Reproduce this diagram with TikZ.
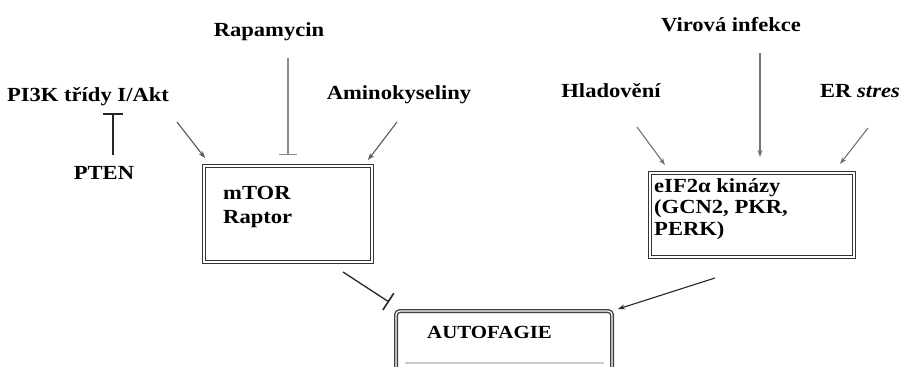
\documentclass[tikz,border=0pt]{standalone}
\usepackage{fontspec}
\setmainfont{Liberation Serif}[FakeStretch=1.13]
\usetikzlibrary{arrows.meta}
\tikzset{
  lbl/.style={font=\fontsize{20}{22}\selectfont\bfseries, inner sep=0pt},
  boxtxt/.style={font=\fontsize{20}{22}\selectfont\bfseries, inner sep=0pt, anchor=west},
  dbox/.style={draw=black!80, line width=0.9pt, double=white, double distance=1.6pt, inner sep=0pt},
  abox/.style={draw=black!75, line width=1.4pt, double=white, double distance=1.2pt, rounded corners=4pt, inner sep=0pt},
  act/.style={draw=black!65, line width=1.1pt, -{Stealth[length=7pt,width=5pt]}},
  actl/.style={draw=black!55, line width=1.1pt, -{Stealth[length=7pt,width=5pt]}},
  inh/.style={draw=black!45, line width=1.1pt, -{Bar[width=18pt,line width=1.3pt]}},
  inhd/.style={draw=black!85, line width=1.3pt, -{Bar[width=20pt,line width=1.6pt]}},
}
\begin{document}
\begin{tikzpicture}[x=1pt,y=-1pt]
\useasboundingbox (0,0) rectangle (906,367);
\clip (0,0) rectangle (906,367);
\fill[white] (0,0) rectangle (906,367);

% labels
\node[lbl] (rapa) at (269,32) {Rapamycin};
\node[lbl] (amino) at (399,95) {Aminokyseliny};
\node[lbl] (pi3k) at (88,97) {PI3K třídy I/Akt};
\node[lbl] (pten) at (104,173) {PTEN};
\node[lbl] (vir) at (731,25) {Virová infekce};
\node[lbl] (hlad) at (611,91) {Hladovění};
\node[lbl] (er) at (860,91) {ER \textit{stres}};

% boxes
\node[dbox, minimum width=168pt, minimum height=96pt] (mtor) at (288,214) {};
\node[boxtxt] (mtortxt) at (223,193) {mTOR};
\node[boxtxt] (raptor) at (223,219) {Raptor};

\node[dbox, minimum width=204pt, minimum height=84pt] (eif) at (752,215) {};
\node[boxtxt] (eif1) at (654,188) {eIF2α kinázy};
\node[boxtxt] (eif2) at (654,209) {(GCN2, PKR,};
\node[boxtxt] (eif3) at (654,231) {PERK)};

\node[abox, minimum width=216pt, minimum height=80pt] (auto) at (504,351) {};
\node[boxtxt, font=\fontsize{18.5}{20}\selectfont\bfseries] (autotxt) at (427,332) {AUTOFAGIE};
\draw[black!20, line width=1.2pt] (405,363) -- (604,363);

% coordinates for free ends
\coordinate (rapaS) at (288,58);
\coordinate (rapaE) at (288,155);
\coordinate (ptenS) at (113,155);
\coordinate (ptenE) at (113,113);
\coordinate (pi3kS) at (177,122);
\coordinate (pi3kE) at (205,158);
\coordinate (aminoS) at (397,122);
\coordinate (aminoE) at (368,160);
\coordinate (virS) at (760,53);
\coordinate (virE) at (760,157);
\coordinate (hladS) at (637,127);
\coordinate (hladE) at (665,165);
\coordinate (erS) at (868,128);
\coordinate (erE) at (840,164);
\coordinate (mtorS) at (343,272);
\coordinate (mtorE) at (389,302);
\coordinate (eifS) at (715,278);
\coordinate (eifE) at (618,309);

% connectors
\draw[inh] (rapaS) -- (rapaE);
\draw[inhd] (ptenS) -- (ptenE);
\draw[act] (pi3kS) -- (pi3kE);
\draw[act] (aminoS) -- (aminoE);
\draw[actl] (virS) -- (virE);
\draw[actl] (hladS) -- (hladE);
\draw[actl] (erS) -- (erE);
\draw[inhd] (mtorS) -- (mtorE);
\draw[act, draw=black!85] (eifS) -- (eifE);
\end{tikzpicture}
\end{document}
